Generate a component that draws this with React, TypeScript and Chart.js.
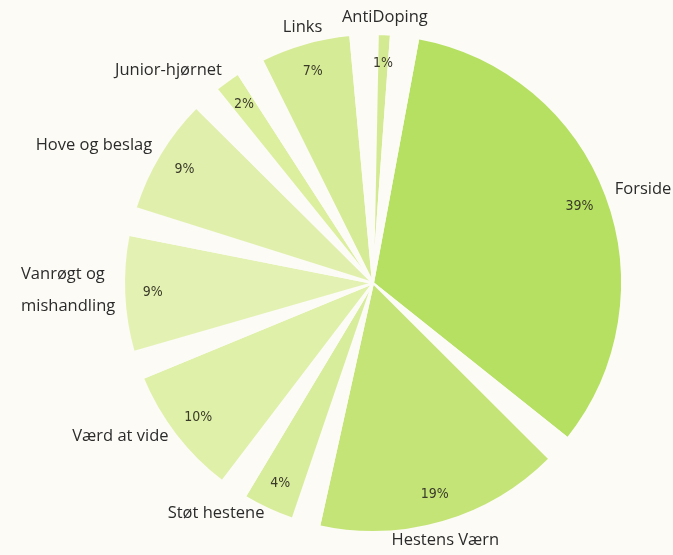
import React, { useEffect, useRef } from "react";
import { Chart, registerables } from "chart.js";

Chart.register(...registerables);

const categories: (string | string[])[] = [
  "Forside",
  "Hestens Værn",
  "Støt hestene",
  "Værd at vide",
  ["Vanrøgt og", "mishandling"],
  "Hove og beslag",
  "Junior-hjørnet",
  "Links",
  "AntiDoping",
];
const values: number[] = [39, 19, 4, 10, 9, 9, 2, 7, 1];
const percentLabels: string[] = ["39%", "19%", "4%", "10%", "9%", "9%", "2%", "7%", "1%"];
const sliceColors: string[] = [
  "#b6e062",
  "#c4e477",
  "#d8ed9c",
  "#dff0a8",
  "#e3f2b2",
  "#e0f0ac",
  "#dcef9f",
  "#d6eb96",
  "#d4ea92",
];

const BG = "#fcfbf6";
const GAP = 2.1; // white wedge between slices, in value units

export default function App() {
  const ref = useRef<HTMLCanvasElement | null>(null);

  useEffect(() => {
    if (!ref.current) return;
    const data: number[] = [];
    const colors: string[] = [];
    const realIndex: number[] = [];
    values.forEach((v, i) => {
      data.push(v);
      colors.push(sliceColors[i]);
      realIndex.push(i);
      data.push(GAP);
      colors.push("rgba(0,0,0,0)");
      realIndex.push(-1);
    });

    const labelPlugin = {
      id: "pieLabels",
      afterDatasetsDraw(chart: any) {
        const ctx = chart.ctx as CanvasRenderingContext2D;
        const meta = chart.getDatasetMeta(0);
        meta.data.forEach((arc: any, k: number) => {
          const i = realIndex[k];
          if (i < 0) return;
          const { x, y, startAngle, endAngle, outerRadius } = arc.getProps(
            ["x", "y", "startAngle", "endAngle", "outerRadius"],
            true
          );
          const mid = (startAngle + endAngle) / 2;
          const cos = Math.cos(mid);
          const sin = Math.sin(mid);
          // percentage inside
          ctx.save();
          ctx.fillStyle = "#3a3a2a";
          ctx.font = "14px 'DejaVu Sans Condensed', 'Liberation Sans Narrow', sans-serif";
          ctx.textAlign = "center";
          ctx.textBaseline = "middle";
          const pr = outerRadius * 0.885;
          ctx.fillText(percentLabels[i], x + cos * pr, y + sin * pr);
          // category outside
          ctx.font = "16.5px 'Open Sans', sans-serif";
          ctx.fillStyle = "#2b2b2b";
          const lr = outerRadius + 9;
          const ax = x + cos * lr;
          const ay = y + sin * lr;
          const raw = categories[i];
          const lines = Array.isArray(raw) ? raw : [raw];
          const lh = 32;
          const maxW = Math.max(...lines.map((l) => ctx.measureText(l).width));
          ctx.textAlign = "left";
          ctx.textBaseline = "middle";
          if (Math.abs(cos) < 0.3) {
            const top = sin < 0 ? ay - 8 - lh * (lines.length - 1) : ay + 10;
            lines.forEach((l, j) => {
              ctx.fillText(l, ax - maxW / 2, top + j * lh);
            });
          } else {
            const left = cos > 0 ? ax : ax - maxW;
            const top = ay - (lh * (lines.length - 1)) / 2 - 4;
            lines.forEach((l, j) => {
              ctx.fillText(l, left, top + j * lh);
            });
          }
          ctx.restore();
        });
      },
    };

    const chart = new Chart(ref.current, {
      type: "pie",
      data: {
        labels: data.map((_, k) => (realIndex[k] >= 0 ? String(categories[realIndex[k]]) : "")),
        datasets: [
          {
            data,
            backgroundColor: colors,
            borderColor: BG,
            borderWidth: 2,
            hoverOffset: 0,
          },
        ],
      },
      options: {
        animation: false,
        responsive: true,
        maintainAspectRatio: false,
        rotation: 10.5,
        layout: { padding: { top: 33, bottom: 22, left: 123, right: 50 } },
        plugins: {
          legend: { display: false },
          tooltip: { enabled: false },
        },
        events: [],
      },
      plugins: [labelPlugin],
    });
    return () => chart.destroy();
  }, []);

  return (
    <div
      style={{
        position: "fixed",
        left: 0,
        top: 0,
        width: 673,
        height: 555,
        background: BG,
      }}
    >
      <canvas ref={ref} />
    </div>
  );
}
